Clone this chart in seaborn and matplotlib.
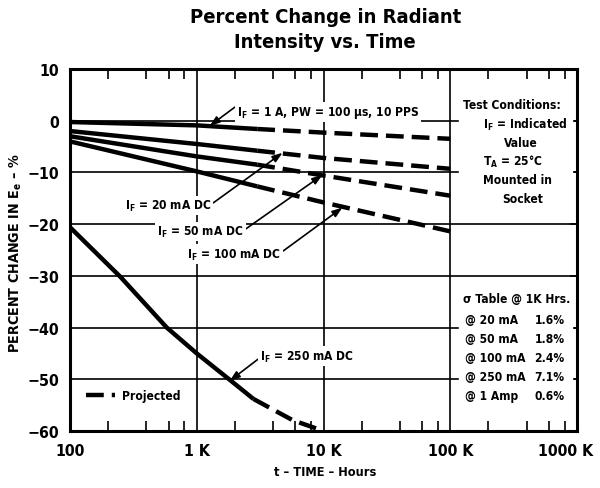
import matplotlib
matplotlib.use("Agg")
import matplotlib.pyplot as plt
import seaborn as sns
import pandas as pd
from matplotlib import font_manager as fm
from matplotlib.ticker import FixedLocator, NullFormatter
from matplotlib.transforms import ScaledTranslation

# values: time in hours, percent change in Ee
hours_dc = [100, 1000, 3000, 10000, 100000]
change_1a = [-0.25, -0.9, -1.6, -2.3, -3.5]
change_20ma = [-2.0, -4.5, -5.8, -7.2, -9.3]
change_50ma = [-3.0, -6.9, -8.5, -10.6, -14.5]
change_100ma = [-4.0, -9.8, -12.7, -15.8, -21.4]
hours_250ma = [100, 250, 580, 1000, 1800, 2800, 5700, 10000]
change_250ma = [-20.6, -30.2, -40.0, -45.0, -50.0, -53.8, -57.9, -60.0]
# measured up to here, projected (dashed) after
measured_end_dc = 3000
measured_end_250 = 2800

x_ticks = [100, 1000, 10000, 100000, 1000000]
x_ticklabels = ["100", "1 K", "10 K", "100 K", "1000 K"]
y_ticks = [10, 0, -10, -20, -30, -40, -50, -60]

sigma_rows = ["@ 20 mA", "@ 50 mA", "@ 100 mA", "@ 250 mA", "@ 1 Amp"]
sigma_vals = ["1.6%", "1.8%", "2.4%", "7.1%", "0.6%"]

sns.set_style("white")

# the original uses a bold condensed face; take a narrow one if there is one
family, stretch = "Liberation Sans", "normal"
narrow = [f for f in fm.fontManager.ttflist
          if (f.stretch != "normal" or "Narrow" in f.name or "Condensed" in f.name)
          and str(f.weight) in ("700", "bold")]
for want in ["Liberation Sans Narrow", "DejaVu Sans", "Noto Sans", "Roboto",
             "Open Sans"]:
    hit = [f for f in narrow if f.name.startswith(want)]
    if hit:
        family, stretch = hit[0].name, hit[0].stretch
        break

plt.rcParams["font.family"] = [family, "DejaVu Sans"]
plt.rcParams["font.stretch"] = stretch
plt.rcParams["font.weight"] = "bold"
math_font = "%s:weight=bold:stretch=%s" % (family, stretch.replace("-", "\\-"))
plt.rcParams["mathtext.fontset"] = "custom"
plt.rcParams["mathtext.rm"] = math_font
plt.rcParams["mathtext.it"] = math_font
plt.rcParams["mathtext.bf"] = math_font
for key in ["text.color", "axes.labelcolor", "xtick.color", "ytick.color"]:
    plt.rcParams[key] = "black"

fig = plt.figure(figsize=(6, 4.89), dpi=100)
renderer = fig.canvas.get_renderer()


def fit_size(text, width_px, base=10.0, cap=None):
    t = fig.text(0, 0, text, fontsize=base)
    w = t.get_window_extent(renderer).width
    t.remove()
    size = base * width_px / w
    return min(size, cap) if cap else size


fs = fit_size("Test Conditions:", 97, cap=10.5)
fs_tick = fit_size("100 K", 46, cap=13)
fs_title = fit_size("Percent Change in Radiant", 274, base=15, cap=18)
fs_ylab = fit_size("PERCENT CHANGE IN E$_e$ \u2013 %", 200, cap=11)
fs_xlab = fit_size("t \u2013 TIME \u2013 Hours", 102, cap=11.5)

ax = fig.add_axes([70 / 600, 1 - 432 / 489, 507 / 600, 362 / 489])
ax.set_xscale("log")
ax.set_axisbelow(True)

LW = 3.2
DASH = (0, (4, 1.8))
series = [
    (hours_dc, change_1a, measured_end_dc),
    (hours_dc, change_20ma, measured_end_dc),
    (hours_dc, change_50ma, measured_end_dc),
    (hours_dc, change_100ma, measured_end_dc),
    (hours_250ma, change_250ma, measured_end_250),
]
for i, (h, c, end) in enumerate(series):
    df = pd.DataFrame({"hours": h, "change": c})
    solid = df[df["hours"] <= end]
    proj = df[df["hours"] >= end]
    sns.lineplot(data=solid, x="hours", y="change", ax=ax, color="black",
                 lw=LW, solid_capstyle="butt", zorder=2)
    sns.lineplot(data=proj, x="hours", y="change", ax=ax, color="black",
                 lw=LW, linestyle=DASH, dash_capstyle="butt", zorder=2,
                 label="Projected" if i == 0 else None)

ax.set_xlim(100, 1000000)
ax.set_ylim(-60, 10)
ax.set_xlabel("")
ax.set_ylabel("")

ax.xaxis.set_major_locator(FixedLocator(x_ticks))
ax.set_xticklabels(x_ticklabels)
minor = [m * d for d in [100, 1000, 10000, 100000] for m in (2, 4, 6, 8)]
ax.xaxis.set_minor_locator(FixedLocator(minor))
ax.xaxis.set_minor_formatter(NullFormatter())
ax.set_yticks(y_ticks)
ax.set_yticklabels([str(v).replace("-", "\u2212") for v in y_ticks])
ax.tick_params(axis="x", which="major", length=0, pad=9, labelsize=fs_tick)
ax.tick_params(axis="x", which="minor", direction="in", length=7, width=1.2,
               top=True, bottom=True)
ax.tick_params(axis="y", which="major", direction="in", length=5, width=1.2,
               right=True, pad=8, labelsize=fs_tick)
# last label sits a little left of its tick, as in the original
last = ax.get_xticklabels()[-1]
last.set_transform(last.get_transform()
                   + ScaledTranslation(-11 / 100, 0, fig.dpi_scale_trans))

ax.grid(True, which="major", color="black", lw=1.2)
for s in ax.spines.values():
    s.set_linewidth(2.2)
    s.set_color("black")

# white panels for the notes on the right
ax.axvspan(117000, 910000, ymin=0.605, ymax=0.93, color="white", zorder=1)
ax.axvspan(117000, 910000, ymin=0.047, ymax=0.405, color="white", zorder=1)

white = dict(facecolor="white", edgecolor="none", pad=1.5)
arrow = dict(arrowstyle="-|>,head_length=0.7,head_width=0.25", color="black",
             lw=1.2, shrinkA=0, shrinkB=0)

ax.annotate("I$_F$ = 1 A, PW = 100 \u03bcs, 10 PPS", xy=(1265, -1.0),
            xytext=(0.329, 0.881), textcoords="axes fraction", fontsize=fs,
            va="center", ha="left", bbox=white,
            arrowprops=dict(arrow, relpos=(0, 0.9)))
ax.annotate("I$_F$ = 20 mA DC", xy=(4750, -6.2),
            xytext=(0.108, 0.622), textcoords="axes fraction", fontsize=fs,
            va="center", ha="left", bbox=white,
            arrowprops=dict(arrow, relpos=(1, 0.6)))
ax.annotate("I$_F$ = 50 mA DC", xy=(9800, -10.5),
            xytext=(0.172, 0.550), textcoords="axes fraction", fontsize=fs,
            va="center", ha="left", bbox=white,
            arrowprops=dict(arrow, relpos=(1, 0.6)))
ax.annotate("I$_F$ = 100 mA DC", xy=(14100, -16.8),
            xytext=(0.231, 0.489), textcoords="axes fraction", fontsize=fs,
            va="center", ha="left", bbox=white,
            arrowprops=dict(arrow, relpos=(1, 0.6)))
ax.annotate("I$_F$ = 250 mA DC", xy=(1820, -50.3),
            xytext=(0.375, 0.207), textcoords="axes fraction", fontsize=fs,
            va="center", ha="left", bbox=white,
            arrowprops=dict(arrow, relpos=(0, 0.4)))

tc = ax.transAxes
ax.text(0.775, 0.903, "Test Conditions:", transform=tc, fontsize=fs, va="center")
ax.text(0.815, 0.848, "I$_F$ = Indicated", transform=tc, fontsize=fs, va="center")
ax.text(0.890, 0.798, "Value", transform=tc, fontsize=fs, va="center", ha="center")
ax.text(0.815, 0.746, "T$_A$ = 25\u00b0C", transform=tc, fontsize=fs, va="center")
ax.text(0.815, 0.696, "Mounted in", transform=tc, fontsize=fs, va="center")
ax.text(0.893, 0.641, "Socket", transform=tc, fontsize=fs, va="center", ha="center")

ax.text(0.775, 0.365, "\u03c3 Table @ 1K Hrs.", transform=tc, fontsize=fs, va="center")
for k, (row, val) in enumerate(zip(sigma_rows, sigma_vals)):
    y = 0.309 - k * 0.0525
    ax.text(0.779, y, row, transform=tc, fontsize=fs, va="center")
    ax.text(0.976, y, val, transform=tc, fontsize=fs, va="center", ha="right")

leg = ax.legend(loc="lower left", bbox_to_anchor=(0.01, 0.05), frameon=False,
                fontsize=fs, handlelength=2.4, handletextpad=0.6)

fig.text(0.542, 0.984, "Percent Change in Radiant\nIntensity vs. Time",
         ha="center", va="top", fontsize=fs_title, linespacing=1.4)
fig.text(0.542, 0.033, "t \u2013 TIME \u2013 Hours", ha="center", va="center",
         fontsize=fs_xlab)
fig.text(0.027, 0.483, "PERCENT CHANGE IN E$_e$ \u2013 %", ha="center",
         va="center", rotation=90, fontsize=fs_ylab)

fig.savefig("out.png", dpi=100)
